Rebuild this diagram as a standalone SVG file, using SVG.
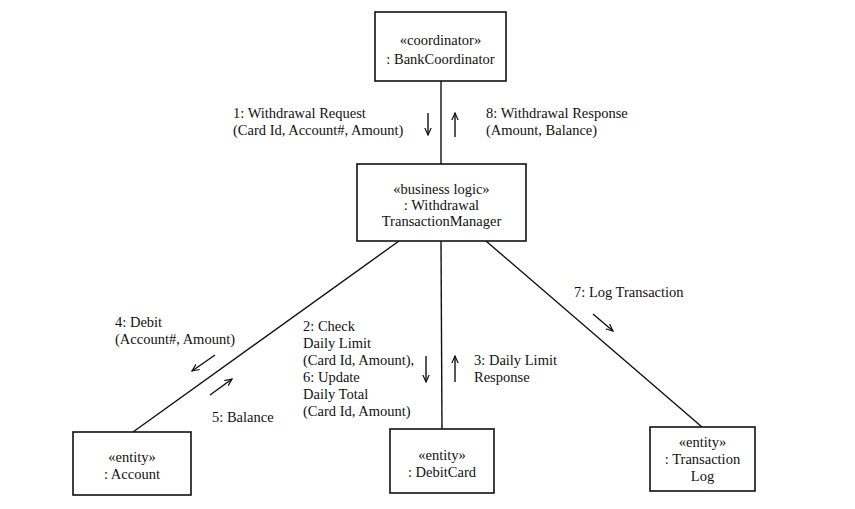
<svg xmlns="http://www.w3.org/2000/svg" width="855" height="509" viewBox="0 0 855 509">
<defs>
<style>
.box{fill:#fff;stroke:#111;stroke-width:1.6}
.ln{stroke:#111;stroke-width:1.4;fill:none}
.ar{stroke:#111;stroke-width:1.4;fill:none;marker-end:url(#ah)}
text{font-family:"Liberation Serif","Times New Roman",serif;font-size:14.5px;fill:#111}
.c{text-anchor:middle}
</style>
<marker id="ah" viewBox="0 0 10 10" refX="9" refY="5" markerWidth="8" markerHeight="8" markerUnits="userSpaceOnUse" orient="auto">
<path d="M0,1 L9,5 L0,9" fill="none" stroke="#111" stroke-width="1.5"/>
</marker>
</defs>
<rect width="855" height="509" fill="#fff"/>
<g id="connectors">
<line class="ln" x1="441" y1="81" x2="441" y2="164"/>
<line class="ln" x1="399" y1="241" x2="133" y2="432"/>
<line class="ln" x1="441" y1="241" x2="442" y2="429"/>
<line class="ln" x1="486" y1="241" x2="702" y2="427"/>
<line class="ar" x1="428" y1="113" x2="428" y2="135"/>
<line class="ar" x1="455" y1="137" x2="455" y2="113"/>
<line class="ar" x1="215" y1="355" x2="192" y2="371"/>
<line class="ar" x1="210" y1="395" x2="232" y2="379"/>
<line class="ar" x1="426" y1="356" x2="426" y2="382"/>
<line class="ar" x1="455" y1="382" x2="455" y2="356"/>
<line class="ar" x1="593" y1="314" x2="613" y2="331"/>
<text x="233" y="118">1: Withdrawal Request</text>
<text x="233" y="135">(Card Id, Account#, Amount)</text>
<text x="486" y="118">8: Withdrawal Response</text>
<text x="486" y="135">(Amount, Balance)</text>
<text x="115" y="327">4: Debit</text>
<text x="115" y="344">(Account#, Amount)</text>
<text x="212" y="422">5: Balance</text>
<text x="303" y="331">2: Check</text>
<text x="303" y="348">Daily Limit</text>
<text x="303" y="365">(Card Id, Amount),</text>
<text x="303" y="382">6: Update</text>
<text x="303" y="399">Daily Total</text>
<text x="303" y="416">(Card Id, Amount)</text>
<text x="474" y="365">3: Daily Limit</text>
<text x="474" y="382">Response</text>
<text x="574" y="297">7: Log Transaction</text>
</g>
<g id="bankCoordinator">
<rect class="box" x="375" y="12" width="131" height="69"/>
<text class="c" x="440.5" y="45">«coordinator»</text>
<text class="c" x="440.5" y="64">: BankCoordinator</text>
</g>
<g id="transactionManager">
<rect class="box" x="357" y="164" width="169" height="77"/>
<text class="c" x="441.5" y="194">«business logic»</text>
<text class="c" x="441.5" y="210">: Withdrawal</text>
<text class="c" x="441.5" y="226">TransactionManager</text>
</g>
<g id="account">
<rect class="box" x="73" y="432" width="118" height="63"/>
<text class="c" x="132" y="462">«entity»</text>
<text class="c" x="132" y="479">: Account</text>
</g>
<g id="debitCard">
<rect class="box" x="390" y="429" width="104" height="64"/>
<text class="c" x="442" y="460">«entity»</text>
<text class="c" x="442" y="477">: DebitCard</text>
</g>
<g id="transactionLog">
<rect class="box" x="650" y="427" width="105" height="64"/>
<text class="c" x="702.5" y="447">«entity»</text>
<text class="c" x="702.5" y="464">: Transaction</text>
<text class="c" x="702.5" y="481">Log</text>
</g>
</svg>
